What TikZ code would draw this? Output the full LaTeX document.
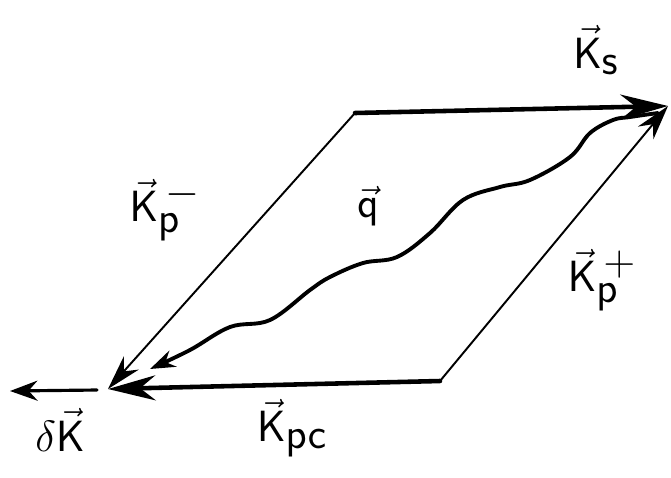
\documentclass[tikz,border=0pt]{standalone}
\usetikzlibrary{arrows.meta}
\tikzset{
  heavy/.style={line width=2.6pt,-{Stealth[length=0.95cm,width=0.5cm]}},
  light/.style={line width=1.1pt,-{Stealth[length=0.7cm,width=0.4cm]}},
  wave/.style={line width=2.2pt,-{Stealth[length=0.5cm,width=0.35cm,open]}},
  lbl/.style={font=\fontsize{34}{38}\selectfont}
}
\begin{document}
\begin{tikzpicture}[x=0.02cm,y=-0.02cm,line cap=round]
\useasboundingbox (0,0) rectangle (671,477);
\coordinate (tl) at (355,113); \coordinate (tr) at (668,106);
\coordinate (bl) at (108,389); \coordinate (br) at (440,381);
\coordinate (dk) at (10,391);

\draw[heavy] (tl) -- (tr);
\draw[light] (tl) -- (bl);
\draw[light] (br) -- (tr);
\draw[heavy] (br) -- (bl);
\draw[line width=1.8pt,-{Stealth[length=0.55cm,width=0.4cm]}] (97,390) -- (dk);

\draw[wave] plot[smooth,tension=0.6] coordinates {(658,113) (630,117) (613,120) (590,133) (570,157)
  (530,180) (500,187) (463,200) (430,233) (397,257) (363,263) (330,277) (310,290)
  (270,320) (230,327) (190,350) (150,369)};

\node[lbl] (ks) at (596,50) {$\vec{\mathsf K}_{\mathsf s}$};
\node[lbl] (kpm) at (165,210) {$\vec{\mathsf K}_{\mathsf p}^{\,-}$};
\node[lbl] (q) at (368,206) {$\vec{\mathsf q}$};
\node[lbl] (kpp) at (602,280) {$\vec{\mathsf K}_{\mathsf p}^{\,+}$};
\node[lbl] (dkl) at (60,430) {$\delta\vec{\mathsf K}$};
\node[lbl] (kpc) at (292,428) {$\vec{\mathsf K}_{\mathsf{pc}}$};

\end{tikzpicture}
\end{document}
